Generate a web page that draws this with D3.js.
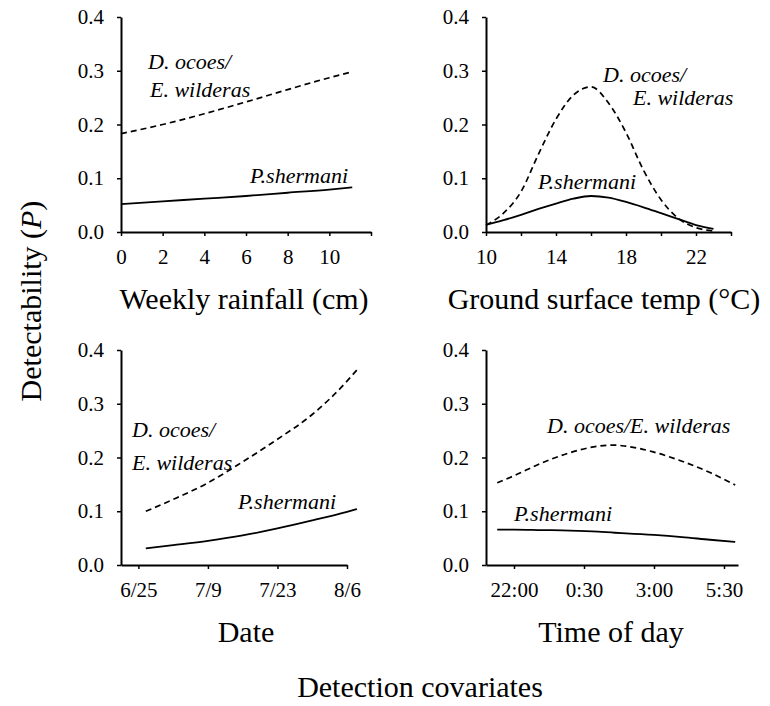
<!DOCTYPE html>
<html>
<head>
<meta charset="utf-8">
<script src="https://cdn.jsdelivr.net/npm/d3@7"></script>
<style>
  body { margin: 0; background: #fff; }
  svg, svg text { font-family: "Liberation Serif", "DejaVu Serif", serif; fill: #000; }
  .axis path, .axis line { stroke: #000; }
  .axis path { stroke-width: 2; }
  .axis line { stroke-width: 1.5; }
  .axis text { font-size: 21px; font-family: "Liberation Serif", "DejaVu Serif", serif; }
  .title { font-size: 30px; }
  .species { font-size: 22px; font-style: italic; }
</style>
</head>
<body>
<div id="chart"></div>
<script>

// weekly rainfall (cm)
const rainfall = [0, 2, 4, 6, 8, 10, 11.1];
const rainDO = [0.183, 0.200, 0.220, 0.242, 0.265, 0.287, 0.298];
const rainPS = [0.052, 0.057, 0.062, 0.067, 0.073, 0.079, 0.083];
const rainTicks = [0, 2, 4, 6, 8, 10, 12];
const rainLabels = ["0", "2", "4", "6", "8", "10", ""];

// ground surface temp (°C)
const temp = [10, 11, 12, 13, 14, 15, 16, 17, 18, 19, 20, 21, 22, 23];
const tempDO = [0.013, 0.035, 0.075, 0.145, 0.21, 0.255, 0.27, 0.24, 0.185, 0.115, 0.06, 0.025, 0.008, 0.002];
const tempPS = [0.013, 0.022, 0.032, 0.043, 0.053, 0.062, 0.067, 0.064, 0.056, 0.046, 0.035, 0.024, 0.013, 0.006];
const tempTicks = [10, 12, 14, 16, 18, 20, 22, 24];
const tempLabels = ["10", "", "14", "", "18", "", "22", ""];

// date (days after 6/25)
const dateDays = [1.5, 7, 14, 21, 28, 35, 42, 44];
const dateDO = [0.100, 0.122, 0.153, 0.192, 0.234, 0.280, 0.342, 0.363];
const datePS = [0.031, 0.037, 0.045, 0.055, 0.068, 0.083, 0.099, 0.104];
const dateTicks = [0, 14, 28, 42];
const dateLabels = ["6/25", "7/9", "7/23", "8/6"];

// time of day (hours, 24 = midnight)
const hours = [21.4, 22, 23, 24, 25, 25.6, 26, 27, 28, 29, 29.9];
const timeDO = [0.153, 0.166, 0.19, 0.209, 0.221, 0.223, 0.221, 0.21, 0.193, 0.172, 0.149];
const timePS = [0.066, 0.066, 0.065, 0.064, 0.062, 0.060, 0.059, 0.056, 0.052, 0.047, 0.043];
const timeTicks = [22, 24.5, 27, 29.5];
const timeLabels = ["22:00", "0:30", "3:00", "5:30"];

const yTicks = [0, 0.1, 0.2, 0.3, 0.4];

const width = 770, height = 706;

const svg = d3.select("#chart").append("svg")
  .attr("width", width)
  .attr("height", height)
  .attr("font-family", "Liberation Serif, DejaVu Serif, serif");

// panel layout: x range, y range (pixels), domains and labels
const panels = [
  { x: rainfall, dOcoee: rainDO, pSherm: rainPS, ticks: rainTicks, labels: rainLabels,
    domain: [0, 12], xr: [121, 371], yr: [232, 17], title: "Weekly rainfall (cm)", tx: 244,
    spec: [{ t: "D. ocoes/", x: 148, y: 69 }, { t: "E. wilderas", x: 150, y: 97 }, { t: "P.shermani", x: 250, y: 183 }] },
  { x: temp, dOcoee: tempDO, pSherm: tempPS, ticks: tempTicks, labels: tempLabels,
    domain: [10, 24], xr: [486, 731], yr: [232, 17], title: "Ground surface temp (\u00B0C)", tx: 604,
    spec: [{ t: "D. ocoes/", x: 603, y: 82 }, { t: "E. wilderas", x: 633, y: 105 }, { t: "P.shermani", x: 538, y: 189 }] },
  { x: dateDays, dOcoee: dateDO, pSherm: datePS, ticks: dateTicks, labels: dateLabels,
    domain: [-3.5, 42], xr: [121, 347], yr: [565, 350], title: "Date", tx: 246,
    spec: [{ t: "D. ocoes/", x: 132, y: 437 }, { t: "E. wilderas", x: 132, y: 470 }, { t: "P.shermani", x: 238, y: 509 }] },
  { x: hours, dOcoee: timeDO, pSherm: timePS, ticks: timeTicks, labels: timeLabels,
    domain: [21, 30], xr: [486, 738], yr: [565, 350], title: "Time of day", tx: 611,
    spec: [{ t: "D. ocoes/E. wilderas", x: 547, y: 433 }, { t: "P.shermani", x: 514, y: 521 }] }
];

panels.forEach(p => {
  const x = d3.scaleLinear().domain(p.domain).range(p.xr);
  const y = d3.scaleLinear().domain([0, 0.4]).range(p.yr);
  const g = svg.append("g");

  g.append("g")
    .attr("class", "axis")
    .attr("transform", `translate(0,${p.yr[0]})`)
    .call(d3.axisBottom(x).tickValues(p.ticks)
      .tickFormat((d, i) => p.labels[i]).tickSize(4).tickSizeOuter(0).tickPadding(13))
    .attr("font-family", null);

  g.append("g")
    .attr("class", "axis")
    .attr("transform", `translate(${p.xr[0]},0)`)
    .call(d3.axisLeft(y).tickValues(yTicks).tickFormat(d3.format(".1f"))
      .tickSize(4).tickSizeOuter(0).tickPadding(13))
    .attr("font-family", null);

  const line = d3.line()
    .x(d => x(d[0]))
    .y(d => y(d[1]))
    .curve(d3.curveMonotoneX);

  g.append("path")
    .datum(p.x.map((v, i) => [v, p.dOcoee[i]]))
    .attr("d", line)
    .attr("fill", "none")
    .attr("stroke", "#000")
    .attr("stroke-width", 1.7)
    .attr("stroke-dasharray", "6,4");

  g.append("path")
    .datum(p.x.map((v, i) => [v, p.pSherm[i]]))
    .attr("d", line)
    .attr("fill", "none")
    .attr("stroke", "#000")
    .attr("stroke-width", 1.8);

  g.selectAll(".species")
    .data(p.spec)
    .enter().append("text")
    .attr("class", "species")
    .attr("x", d => d.x)
    .attr("y", d => d.y)
    .text(d => d.t);

  g.append("text")
    .attr("class", "title")
    .attr("text-anchor", "middle")
    .attr("x", p.tx)
    .attr("y", p.yr[0] + 77)
    .text(p.title);
});

// shared axis titles
const yTitle = svg.append("text")
  .attr("class", "title")
  .attr("text-anchor", "middle")
  .attr("transform", "translate(41,301) rotate(-90)");
yTitle.append("tspan").text("Detectability (");
yTitle.append("tspan").style("font-style", "italic").text("P");
yTitle.append("tspan").text(")");

svg.append("text")
  .attr("class", "title")
  .attr("text-anchor", "middle")
  .attr("x", 420)
  .attr("y", 697)
  .text("Detection covariates");

</script>
</body>
</html>
